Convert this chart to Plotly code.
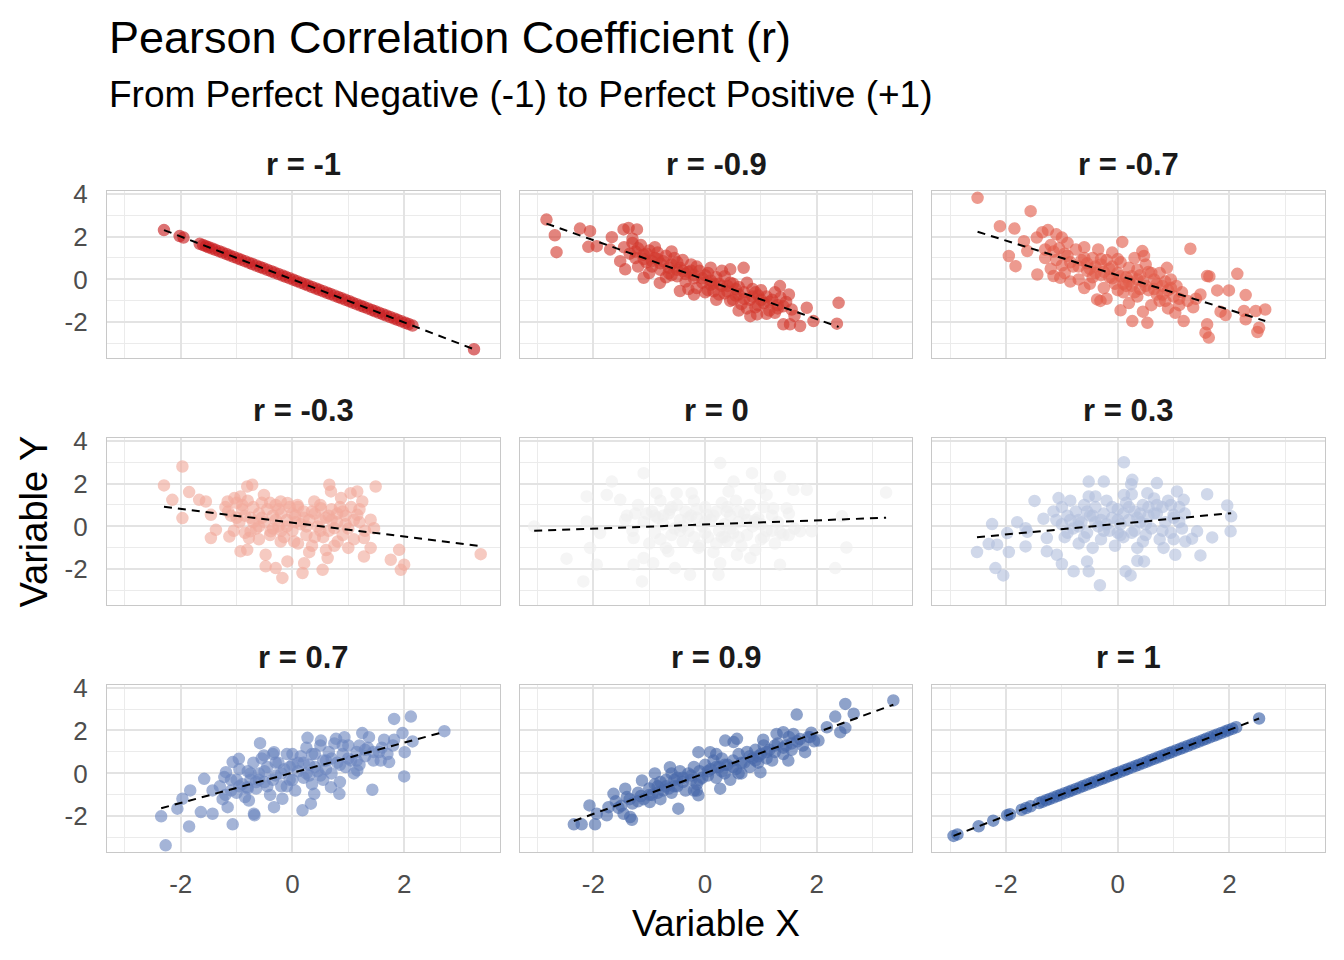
import numpy as np
import plotly.graph_objects as go
from plotly.subplots import make_subplots

# panel labels and colours, in facet order
panel_labels = ["r = -1", "r = -0.9", "r = -0.7",
                "r = -0.3", "r = 0", "r = 0.3",
                "r = 0.7", "r = 0.9", "r = 1"]
panel_colors = ["#c81c1e", "#d33a2f", "#e35d4b",
                "#f2aa9c", "#efefef", "#b4c1de",
                "#6d87c0", "#4a6aab", "#345ca6"]

# r = -1 (points on a straight line)
x_m10 = [-2.30, -2.02, -1.95, -1.66, -1.60, -1.55, -1.50, -1.44, -1.38, -1.31, -1.25, -1.18,
         -1.12, -1.05, -0.98, -0.92, -0.85, -0.78, -0.72, -0.65, -0.58, -0.52, -0.45, -0.38,
         -0.32, -0.25, -0.18, -0.12, -0.05, 0.02, 0.08, 0.15, 0.22, 0.28, 0.35, 0.42, 0.48,
         0.55, 0.62, 0.68, 0.75, 0.82, 0.88, 0.95, 1.02, 1.08, 1.15, 1.22, 1.28, 1.35, 1.42,
         1.48, 1.55, 1.62, 1.68, 1.75, 1.82, 1.88, 1.95, 2.02, 2.08, 2.15, 3.25]
y_m10 = [2.30, 2.02, 1.95, 1.66, 1.60, 1.55, 1.50, 1.44, 1.38, 1.31, 1.25, 1.18,
         1.12, 1.05, 0.98, 0.92, 0.85, 0.78, 0.72, 0.65, 0.58, 0.52, 0.45, 0.38,
         0.32, 0.25, 0.18, 0.12, 0.05, -0.02, -0.08, -0.15, -0.22, -0.28, -0.35, -0.42, -0.48,
         -0.55, -0.62, -0.68, -0.75, -0.82, -0.88, -0.95, -1.02, -1.08, -1.15, -1.22, -1.28, -1.35, -1.42,
         -1.48, -1.55, -1.62, -1.68, -1.75, -1.82, -1.88, -1.95, -2.02, -2.08, -2.15, -3.25]

# r = -0.9
pts_m09 = [(-2.84, 2.79), (-2.69, 2.06), (-2.66, 1.27), (-2.24, 2.37), (-2.06, 2.25), (-2.09, 1.52),
           (-1.94, 1.55), (-1.67, 1.97), (-1.70, 1.40), (-1.46, 2.33), (-1.37, 2.40), (-1.22, 2.33),
           (-1.52, 0.85), (-1.43, 0.47), (-1.10, 0.08), (-0.81, -0.16), (-0.45, -0.54), (0.45, 0.47),
           (0.69, 0.54), (0.81, -1.71), (0.93, -1.63), (1.34, -0.31), (1.40, -2.09), (1.52, -2.09),
           (1.70, -2.17), (1.82, -1.32), (1.94, -1.94), (2.39, -1.09), (2.36, -2.06),
           (-1.45, 1.5), (-1.35, 1.2), (-1.3, 1.7), (-1.25, 1.0), (-1.2, 1.45), (-1.15, 1.6), (-1.1, 1.15),
           (-1.05, 0.8), (-1.0, 1.35), (-0.95, 0.6), (-0.9, 1.0), (-0.85, 1.25), (-0.8, 0.45), (-0.75, 0.85),
           (-0.7, 1.1), (-0.65, 0.3), (-0.6, 0.7), (-0.55, 1.0), (-0.5, 0.15), (-0.45, 0.55), (-0.4, 0.9),
           (-0.35, -0.1), (-0.3, 0.35), (-0.25, 0.7), (-0.2, 0.05), (-0.15, -0.4), (-0.1, 0.4), (-0.05, -0.15),
           (0.0, 0.2), (0.05, -0.5), (0.1, 0.55), (0.15, -0.2), (0.2, 0.1), (0.25, -0.7), (0.3, -0.3),
           (0.35, 0.15), (0.4, -0.55), (0.45, -1.0), (0.5, -0.2), (0.55, -0.75), (0.6, -0.35), (0.65, -1.15),
           (0.7, -0.6), (0.75, -0.15), (0.8, -0.95), (0.85, -0.45), (0.9, -1.3), (0.95, -0.75), (1.0, -0.5),
           (1.05, -1.1), (1.1, -0.8), (1.15, -1.45), (1.2, -0.95), (1.25, -0.6), (1.3, -1.2), (1.35, -0.85),
           (1.45, -1.05), (1.55, -1.4), (1.25, -1.55), (0.6, -1.45), (0.2, -0.95), (-0.2, -0.7), (-0.4, 0.4),
           (-0.7, 0.1), (-1.0, 0.3), (-1.2, 0.6), (-0.3, -0.45), (0.1, -0.25), (0.5, -0.95), (0.95, -1.2),
           (0.3, 0.4), (-0.6, 1.3), (-0.9, 1.5), (-1.3, 1.9), (1.1, -1.6), (0.75, -1.35), (1.6, -1.7),
           (1.5, -0.7), (0.0, -0.6), (-0.15, 0.6),
           (-1.25, 1.3), (-1.1, 0.95), (-0.95, 0.85), (-0.8, 0.75), (-0.65, 0.55), (-0.5, 0.45), (-0.35, 0.25),
           (-0.2, 0.2), (-0.05, 0.05), (0.1, -0.05), (0.25, -0.2), (0.4, -0.3), (0.55, -0.45), (0.7, -0.9),
           (0.85, -0.8), (1.0, -0.95), (1.15, -1.05), (1.3, -1.35), (0.35, -0.65), (-0.5, 0.8), (-0.85, 0.95),
           (0.05, 0.3), (0.6, -0.7), (-0.25, 0.4), (0.9, -0.6), (1.4, -1.25), (-1.05, 1.2), (0.15, -0.55),
           (0.45, -0.15), (-0.6, 0.2)]

# r = -0.7
pts_m07 = [(-2.51, 3.80), (-1.56, 3.18), (-2.11, 2.48), (-1.85, 2.37), (-1.95, 1.09), (-1.83, 0.62),
           (-1.68, 1.78), (-1.62, 1.32), (-1.44, 0.23), (-1.15, 0.16), (-1.03, 0.08), (0.08, 1.75),
           (0.44, 1.32), (0.47, 1.09), (-0.37, -0.93), (-0.31, -1.0), (0.05, -1.44), (0.26, -1.94),
           (0.53, -2.02), (0.88, 0.54), (1.30, 1.43), (1.60, 0.16), (1.64, 0.14), (2.14, 0.26),
           (2.29, -0.73), (1.78, -0.51), (1.99, -0.51), (1.48, -0.70), (1.84, -1.50), (1.93, -1.66),
           (2.26, -1.47), (2.29, -1.86), (2.47, -1.47), (2.64, -1.40), (2.53, -2.25), (2.50, -2.45),
           (1.60, -2.09), (1.57, -2.48), (1.63, -2.71), (1.18, -1.94), (1.03, -1.55),
           (-1.45, 1.95), (-1.35, 2.2), (-1.25, 2.3), (-1.1, 2.1), (-1.0, 1.95), (-1.2, 1.6), (-1.05, 1.45),
           (-0.9, 1.7), (-1.3, 1.0), (-1.2, 0.5), (-1.1, 0.9), (-0.95, 0.3), (-0.9, 1.1), (-0.8, 0.6),
           (-0.75, 1.4), (-0.7, 0.0), (-0.65, 0.9), (-0.6, 1.5), (-0.55, 0.4), (-0.5, -0.2), (-0.45, 1.0),
           (-0.4, 0.6), (-0.35, 1.4), (-0.3, 0.2), (-0.25, -0.4), (-0.2, 0.9), (-0.15, 0.5), (-0.1, 1.25),
           (-0.05, -0.2), (0.0, 0.3), (0.05, 0.8), (0.1, -0.6), (0.15, 0.1), (0.2, 0.55), (0.25, -0.3),
           (0.3, 1.0), (0.35, -0.8), (0.4, 0.2), (0.45, -0.1), (0.5, 0.7), (0.55, -0.5), (0.6, -1.2),
           (0.65, 0.0), (0.7, -0.7), (0.75, 0.3), (0.8, -0.3), (0.85, -1.0), (0.9, -0.5), (0.95, 0.0),
           (1.0, -0.8), (1.05, -0.3), (1.1, -1.2), (1.15, -0.6), (-0.6, -0.4), (-0.2, -0.9), (0.2, -1.1),
           (0.45, -1.5), (-0.85, -0.1), (0.0, 0.95), (-0.45, 0.1), (0.35, 0.45), (0.7, -0.2), (0.15, -0.3),
           (-0.3, 0.7), (-1.0, 0.65), (1.25, -1.0), (1.4, -0.9), (1.35, -1.3), (0.55, 0.35), (-0.1, 0.05),
           (0.25, 0.15), (0.9, -1.35),
           (-1.15, 1.3), (-0.95, 1.2), (-0.85, 0.8), (-0.7, 0.6), (-0.55, 0.75), (-0.4, 0.3), (-0.25, 0.35),
           (-0.1, 0.6), (0.05, 0.15), (0.2, -0.1), (0.35, 0.0), (0.5, -0.3), (0.65, -0.45), (0.8, -0.7),
           (0.95, -0.4), (1.1, -0.9), (-0.6, 1.0), (-0.3, 0.95), (0.1, -0.2), (0.4, -0.45), (0.75, -1.0),
           (-1.3, 1.4), (0.6, 0.3), (0.0, -0.5), (-0.5, 0.5), (0.3, -0.6), (0.85, -0.1), (-0.15, 0.1)]

# r = -0.3
pts_m03 = [(-2.30, 1.91), (-1.97, 2.79), (-2.15, 1.24), (-1.97, 0.39), (-1.85, 1.60), (-1.67, 1.24),
           (-1.55, 1.16), (-1.46, 0.54), (-1.37, -0.16), (-1.46, -0.54), (-1.13, -0.47), (-1.16, 1.16),
           (-1.04, 1.32), (-0.93, 1.40), (-0.81, 1.86), (-0.72, 1.94), (-0.93, -1.16), (-0.81, -1.09),
           (-0.75, -0.23), (-0.78, -0.54), (-0.51, 1.47), (-0.48, -1.32), (-0.48, -1.86), (-0.30, -1.94),
           (-0.18, -2.40), (-0.09, -1.63), (-0.21, 1.16), (-0.09, 1.09), (0.09, 1.0), (-0.39, -0.23),
           (-0.21, -0.70), (0.03, -0.70), (0.18, -2.17), (0.21, -1.71), (0.39, 1.16), (0.51, 0.85),
           (0.66, 1.94), (0.69, 1.63), (0.54, -2.02), (0.63, -1.47), (0.75, -0.08), (0.87, 1.32),
           (0.81, -0.70), (1.04, 1.55), (1.16, 1.63), (1.25, 1.16), (1.49, 1.86), (1.28, -1.40),
           (1.40, -1.0), (1.28, -0.54), (1.40, 0.31), (1.46, -0.08), (1.16, 0.54), (1.76, -1.55),
           (1.91, -1.09), (1.94, -2.02), (2.0, -1.78), (3.37, -1.29),
           (-1.2, 0.9), (-1.1, 0.5), (-1.0, 1.1), (-0.95, 0.2), (-0.9, 0.8), (-0.85, -0.3), (-0.8, 1.2),
           (-0.75, 0.4), (-0.7, 0.9), (-0.65, -0.1), (-0.6, 0.6), (-0.55, 1.1), (-0.5, 0.2), (-0.45, 0.8),
           (-0.4, -0.4), (-0.35, 0.5), (-0.3, 1.0), (-0.25, 0.0), (-0.2, 0.6), (-0.15, -0.5), (-0.1, 0.3),
           (-0.05, 0.9), (0.0, -0.2), (0.05, 0.5), (0.1, -0.8), (0.15, 0.1), (0.2, 0.7), (0.25, -0.4),
           (0.3, 0.3), (0.35, -0.9), (0.4, 0.6), (0.45, 0.0), (0.5, 1.0), (0.55, -0.5), (0.6, 0.4),
           (0.65, -0.2), (0.7, 0.8), (0.75, -0.9), (0.8, 0.2), (0.85, 0.9), (0.9, -0.4), (0.95, 0.5),
           (1.0, -0.1), (1.05, 0.9), (1.1, -0.6), (1.2, 0.2), (1.3, -0.2), (-0.6, -0.6), (0.3, -1.2),
           (0.6, -1.1), (1.0, -1.0), (-1.05, -0.2), (0.0, 0.6), (0.5, 0.3), (-0.3, 0.3),
           (-1.15, 0.7), (-1.0, 0.4), (-0.85, 0.5), (-0.7, 0.2), (-0.55, 0.4), (-0.4, 1.1), (-0.25, 0.8),
           (-0.1, 0.0), (0.05, 0.2), (0.2, 0.4), (0.35, 0.7), (0.5, -0.2), (0.65, 0.5), (0.8, 0.6),
           (0.95, 0.1), (1.1, 0.3), (1.2, 0.8), (-0.6, 0.0), (-0.2, -0.2), (0.25, 0.0), (0.7, 0.3),
           (0.4, -0.5), (-0.9, 1.0), (0.1, 0.9), (0.9, 0.7), (-0.35, -0.1)]

# r = 0
pts_00 = [(-3.06, 0.0), (-2.48, -1.50), (-2.18, -2.56), (-2.12, 1.40), (-2.12, 0.23), (-2.06, -1.0),
          (-1.94, -1.78), (-1.88, -0.31), (-1.76, 1.47), (-1.67, 2.09), (-1.52, 1.24), (-1.43, 0.31),
          (-1.28, -1.78), (-1.28, -0.54), (-1.10, 2.48), (-1.13, -2.56), (-1.10, -1.47), (-0.93, -1.71),
          (-0.87, 1.55), (-0.63, 0.78), (-0.66, -1.16), (-0.54, -1.94), (-0.51, 1.55), (-0.27, -2.25),
          (-0.24, 1.55), (-0.12, -1.0), (0.03, 0.54), (0.27, 2.95), (0.24, -2.25), (0.27, -1.71),
          (0.42, 1.63), (0.51, 2.09), (0.39, 0.70), (0.57, -1.32), (0.84, 2.48), (0.81, -1.47),
          (0.99, 1.78), (1.10, 1.47), (1.34, 2.33), (1.34, -1.78), (1.22, 0.85), (1.46, 0.85),
          (1.58, 1.71), (1.82, 1.71), (1.70, -0.23), (1.91, -0.23), (2.45, 0.47), (2.53, -0.98),
          (2.33, -1.94), (3.24, 1.58),
          (-1.4, 0.5), (-1.3, -0.2), (-1.2, 1.0), (-1.1, 0.2), (-1.0, -0.8), (-0.95, 0.7), (-0.9, -0.3),
          (-0.8, 1.2), (-0.75, 0.1), (-0.7, -1.0), (-0.65, 0.6), (-0.6, -0.4), (-0.5, 1.0), (-0.45, 0.3),
          (-0.4, -0.7), (-0.35, 0.7), (-0.3, -0.2), (-0.2, 1.2), (-0.15, 0.4), (-0.1, -0.9), (-0.05, 0.0),
          (0.0, 0.9), (0.05, -0.5), (0.1, 0.3), (0.15, -1.2), (0.2, 0.7), (0.25, -0.2), (0.3, 1.1),
          (0.35, 0.1), (0.4, -0.7), (0.45, 0.5), (0.5, -0.3), (0.55, 1.2), (0.6, 0.2), (0.65, -0.9),
          (0.7, 0.6), (0.75, -0.4), (0.8, 1.0), (0.85, 0.0), (0.9, -1.1), (0.95, 0.4), (1.0, -0.6),
          (1.05, 0.9), (1.1, -0.2), (1.2, 0.5), (1.25, -0.8), (1.3, 0.2), (1.4, -0.4), (1.5, 0.6),
          (1.6, -0.1), (-0.85, 0.4), (-0.25, 0.5), (0.35, -0.5), (0.9, 0.3), (-0.55, -0.1), (0.0, -0.3),
          (-1.25, 0.6), (-1.05, 0.6), (-0.9, 0.5), (-0.75, 0.5), (-0.6, 0.9), (-0.45, -0.2), (-0.3, 0.4),
          (-0.15, 0.8), (0.0, 0.2), (0.15, 0.5), (0.3, -0.5), (0.45, -0.1), (0.6, 0.7), (0.75, 0.3),
          (0.9, 0.2), (1.05, -0.5), (1.2, -0.2), (1.35, -0.3), (1.5, -0.4), (-0.4, 0.0), (0.2, -0.8),
          (0.6, -0.5), (-0.8, -0.6), (0.4, 0.9), (1.0, 0.1), (-0.2, -0.5)]

# r = 0.3
pts_p03 = [(-2.52, -1.19), (-2.25, 0.11), (-2.31, -0.82), (-2.16, -0.85), (-2.19, -1.94), (-2.05, -2.28),
           (-1.95, -1.19), (-1.98, -0.31), (-1.80, 0.20), (-1.65, -0.08), (-1.65, -0.93), (-1.62, -0.25),
           (-1.49, 1.19), (-1.33, 0.36), (-1.27, -0.54), (-1.27, -1.16), (-1.06, 1.32), (-1.15, 0.70),
           (-1.09, -1.32), (-1.0, -1.75), (-0.79, -2.09), (-0.52, -2.09), (-0.52, 2.09), (-0.25, 2.09),
           (-0.52, 1.40), (-0.40, 1.40), (-0.55, -1.63), (-0.32, -2.74), (0.11, 2.99), (0.26, 2.17),
           (0.24, 1.97), (0.14, -2.09), (0.23, -2.28), (0.35, -1.60), (0.47, -1.63), (0.11, 1.47),
           (0.53, 1.55), (0.70, 2.02), (0.82, -1.0), (1.03, -1.32), (1.06, 1.63), (1.18, 1.24),
           (1.00, 0.54), (1.60, 1.50), (1.42, -0.23), (1.21, -0.70), (1.33, -0.57), (1.48, -1.35),
           (1.69, -0.51), (1.96, 0.98), (2.03, 0.47), (2.02, -0.23),
           (-1.1, 0.3), (-1.0, 0.9), (-0.95, -0.5), (-0.9, 0.5), (-0.85, 1.2), (-0.8, -0.1), (-0.75, 0.7),
           (-0.7, -0.8), (-0.65, 0.2), (-0.6, 1.0), (-0.55, -0.3), (-0.5, 0.5), (-0.45, -1.0), (-0.4, 0.9),
           (-0.35, 0.0), (-0.3, -0.6), (-0.25, 0.6), (-0.2, 1.2), (-0.15, -0.2), (-0.1, 0.4), (-0.05, -0.9),
           (0.0, 0.8), (0.05, 0.1), (0.1, -0.5), (0.15, 1.1), (0.2, 0.3), (0.25, -0.3), (0.3, 0.7),
           (0.35, -1.0), (0.4, 0.2), (0.45, 1.0), (0.5, -0.4), (0.55, 0.5), (0.6, -0.1), (0.65, 1.3),
           (0.7, 0.6), (0.75, -0.6), (0.8, 0.9), (0.85, 0.2), (0.9, 1.2), (0.95, -0.3), (1.0, 0.4),
           (1.1, 0.9), (1.15, -0.1), (1.2, 0.6), (-0.7, 0.3), (0.0, -0.3), (0.4, 0.6), (0.25, 1.5),
           (-0.2, 0.1),
           (-1.0, 0.1), (-0.85, 0.3), (-0.7, 0.0), (-0.55, 0.7), (-0.4, 0.2), (-0.25, -0.2), (-0.1, 0.9),
           (0.05, -0.4), (0.2, 0.9), (0.35, 0.4), (0.5, 0.1), (0.65, 0.6), (0.8, -0.2), (0.95, 1.0),
           (1.1, 0.2), (-0.6, -0.5), (-0.3, 0.3), (0.1, 0.6), (0.45, -0.7), (0.7, 1.0), (0.3, -0.2),
           (-0.9, -0.3), (0.0, 0.3), (0.55, 0.9), (1.0, -0.6), (-0.45, 0.5)]

# r = 0.7
pts_p07 = [(-2.35, -2.0), (-2.27, -3.35), (-1.85, -2.47), (-2.06, -1.64), (-1.97, -1.18), (-1.83, -0.79),
           (-1.64, -1.80), (-1.58, -0.25), (-1.43, -1.88), (-1.43, -0.79), (-1.22, -0.17), (-1.19, 0.06),
           (-1.16, -1.57), (-1.07, -2.37), (-1.07, 0.53), (-0.96, 0.68), (-0.81, -0.64), (-0.78, -1.26),
           (-0.69, -1.88), (-0.68, -1.95), (-0.58, 1.41), (-0.33, -1.57), (-0.18, -1.18), (-0.33, 0.99),
           (-0.51, 0.84), (0.18, -1.72), (0.33, -1.41), (0.39, -0.95), (0.27, 1.66), (0.51, 1.53),
           (0.84, -0.95), (0.69, -0.64), (0.93, 1.69), (0.78, 1.61), (1.25, 1.88), (1.37, 1.69),
           (1.16, 0.14), (1.43, -0.76), (1.64, 1.57), (1.82, 1.57), (1.82, 2.54), (2.12, 2.65),
           (1.97, 1.88), (2.15, 1.49), (2.01, 0.99), (2.0, -0.14), (1.73, 0.53), (1.58, 0.60), (2.72, 1.97),
           (-1.3, -0.6), (-1.2, -1.0), (-1.1, -0.3), (-1.0, -0.9), (-0.95, 0.2), (-0.9, -0.5), (-0.85, -1.1),
           (-0.8, 0.1), (-0.75, -0.3), (-0.7, 0.5), (-0.65, -0.7), (-0.6, 0.0), (-0.55, 0.7), (-0.5, -0.4),
           (-0.45, 0.3), (-0.4, -1.0), (-0.35, 0.9), (-0.3, -0.1), (-0.25, 0.5), (-0.2, -0.6), (-0.15, 0.2),
           (-0.1, 0.9), (-0.05, -0.3), (0.0, 0.4), (0.05, -0.8), (0.1, 0.1), (0.15, 0.8), (0.2, -0.2),
           (0.25, 1.2), (0.3, 0.4), (0.35, -0.5), (0.4, 0.9), (0.45, 0.1), (0.5, 1.3), (0.55, -0.3),
           (0.6, 0.6), (0.65, 1.0), (0.7, 0.0), (0.75, 1.4), (0.8, 0.5), (0.85, -0.4), (0.9, 0.9),
           (0.95, 0.3), (1.0, 1.3), (1.05, 0.6), (1.1, 0.0), (1.15, 1.0), (1.2, 0.4), (1.3, 0.8),
           (1.35, 1.2), (1.45, 0.6), (1.55, 1.0), (1.7, 0.9), (1.8, 1.3), (-0.1, -0.6), (0.3, -0.1),
           (0.6, 0.2), (-0.6, -0.3), (0.0, 0.9), (-1.0, -0.3), (-0.45, -0.6),
           (-1.25, -1.2), (-1.1, -0.8), (-0.95, -0.6), (-0.8, -0.7), (-0.65, -0.4), (-0.5, 0.1), (-0.35, -0.3),
           (-0.2, 0.0), (-0.05, 0.3), (0.1, 0.5), (0.25, 0.0), (0.4, 0.3), (0.55, 0.6), (0.7, 0.7),
           (0.85, 0.4), (1.0, 0.7), (1.15, 0.6), (1.3, 1.1), (1.45, 1.0), (1.6, 1.2), (-0.3, 0.5),
           (0.2, 0.5), (0.5, -0.1), (0.9, 1.3), (-0.75, 0.0), (0.0, -0.3), (1.2, 1.3), (0.35, 0.9)]

# r = 0.9
pts_p09 = [(-2.35, -2.37), (-2.21, -2.37), (-1.97, -2.37), (-2.07, -1.49), (-1.94, -1.88), (-1.76, -1.95),
           (-1.73, -1.57), (-1.64, -0.95), (-1.46, -1.88), (-1.34, -2.03), (-1.31, -2.16), (-1.43, -0.71),
           (-1.13, -0.33), (-0.99, -1.33), (-0.90, 0.0), (-0.63, 0.29), (-0.60, 0.0), (-0.48, -1.64),
           (-0.12, 0.99), (0.09, 0.99), (-0.12, -1.02), (-0.15, -0.8), (0.27, -0.71), (0.36, 1.53),
           (0.57, 1.61), (0.51, 1.46), (0.99, 0.06), (1.04, 1.57), (1.28, 1.84), (1.40, 1.92),
           (1.49, 0.60), (1.64, 2.74), (1.58, 1.84), (1.79, 0.99), (1.88, 1.69), (2.03, 1.53),
           (2.18, 2.15), (2.33, 2.65), (2.42, 1.92), (2.51, 2.12), (2.51, 3.24), (2.66, 2.78), (3.37, 3.40),
           (-1.6, -1.3), (-1.5, -1.5), (-1.4, -1.1), (-1.3, -1.4), (-1.2, -0.9), (-1.1, -1.2), (-1.0, -0.7),
           (-0.95, -1.0), (-0.9, -0.5), (-0.85, -0.9), (-0.8, -0.4), (-0.75, -0.8), (-0.7, -0.3), (-0.65, -0.7),
           (-0.6, -0.9), (-0.55, -0.3), (-0.5, -0.6), (-0.45, 0.1), (-0.4, -0.4), (-0.35, -0.8), (-0.3, 0.0),
           (-0.25, -0.3), (-0.2, 0.3), (-0.15, -0.5), (-0.1, 0.1), (-0.05, -0.2), (0.0, 0.4), (0.05, -0.1),
           (0.1, 0.2), (0.15, 0.6), (0.2, -0.2), (0.25, 0.3), (0.3, 0.7), (0.35, 0.0), (0.4, 0.4),
           (0.45, -0.3), (0.5, 0.6), (0.55, 0.2), (0.6, 0.9), (0.65, 0.0), (0.7, 0.5), (0.75, 1.0),
           (0.8, 0.3), (0.85, 0.7), (0.9, 1.1), (0.95, 0.5), (1.0, 0.9), (1.05, 1.3), (1.1, 0.7),
           (1.15, 1.1), (1.2, 0.6), (1.25, 1.0), (1.3, 1.4), (1.4, 0.9), (1.45, 1.3), (1.55, 1.1),
           (1.65, 1.5), (1.75, 1.3), (1.85, 1.7), (1.95, 1.5), (0.2, 0.9), (-0.8, -1.2), (0.6, 0.0),
           (-0.2, -0.8),
           (-1.55, -1.6), (-1.35, -1.2), (-1.15, -1.05), (-1.0, -1.0), (-0.85, -0.6), (-0.7, -0.6), (-0.55, -0.6),
           (-0.4, -0.2), (-0.25, -0.1), (-0.1, -0.3), (0.05, 0.1), (0.2, 0.3), (0.35, 0.4), (0.5, 0.3),
           (0.65, 0.5), (0.8, 0.8), (0.95, 0.8), (1.1, 1.0), (1.25, 1.3), (1.4, 1.2), (1.55, 1.4),
           (1.7, 1.6), (1.9, 1.9), (-0.5, -0.2), (0.3, 0.1), (0.9, 0.6), (1.5, 1.7), (-1.2, -1.3)]

# r = 1 (points on a straight line)
x_p10 = [-2.94, -2.87, -2.49, -2.23, -1.98, -1.93, -1.72, -1.64, -1.56, -1.41, -1.35, -1.28, -1.22,
         -1.15, -1.08, -1.02, -0.95, -0.88, -0.82, -0.75, -0.68, -0.62, -0.55, -0.48, -0.42, -0.35,
         -0.28, -0.22, -0.15, -0.08, -0.02, 0.05, 0.12, 0.18, 0.25, 0.32, 0.38, 0.45, 0.52, 0.58,
         0.65, 0.72, 0.78, 0.85, 0.92, 0.98, 1.05, 1.12, 1.18, 1.25, 1.32, 1.38, 1.45, 1.52, 1.58,
         1.65, 1.72, 1.78, 1.85, 1.92, 1.98, 2.05, 2.12, 2.53]
y_p10 = [-2.91, -2.84, -2.46, -2.20, -1.95, -1.90, -1.69, -1.61, -1.53, -1.38, -1.32, -1.25, -1.19,
         -1.12, -1.05, -0.99, -0.92, -0.85, -0.79, -0.72, -0.65, -0.59, -0.52, -0.45, -0.39, -0.32,
         -0.25, -0.19, -0.12, -0.05, 0.01, 0.08, 0.15, 0.21, 0.28, 0.35, 0.41, 0.48, 0.55, 0.61,
         0.68, 0.75, 0.81, 0.88, 0.95, 1.01, 1.08, 1.15, 1.21, 1.28, 1.35, 1.41, 1.48, 1.55, 1.61,
         1.68, 1.75, 1.81, 1.88, 1.95, 2.01, 2.08, 2.15, 2.56]


def split(pts):
    return [p[0] for p in pts], [p[1] for p in pts]


panels = [(x_m10, y_m10), split(pts_m09), split(pts_m07),
          split(pts_m03), split(pts_00), split(pts_p03),
          split(pts_p07), split(pts_p09), (x_p10, y_p10)]

x_ticks = [-2, 0, 2]
y_ticks = [-2, 0, 2, 4]
minor_ticks = [-3, -1, 1, 3]
x_range = [-3.32, 3.71]
y_range = [-3.66, 4.12]

FONT = "Liberation Sans, Arial, Helvetica, sans-serif"

fig = make_subplots(rows=3, cols=3, horizontal_spacing=0.0164, vertical_spacing=0.121)

for i, (xs, ys) in enumerate(panels):
    row, col = i // 3 + 1, i % 3 + 1
    c = panel_colors[i]
    fig.add_trace(go.Scatter(x=xs, y=ys, mode="markers", showlegend=False, hoverinfo="skip",
                             marker=dict(color=c, size=11, opacity=0.62,
                                         line=dict(color=c, width=1.5))),
                  row=row, col=col)
    # least squares line over the data range (geom_smooth method = "lm")
    slope, icpt = np.polyfit(xs, ys, 1)
    xl = [min(xs), max(xs)]
    yl = [icpt + slope * v for v in xl]
    fig.add_trace(go.Scatter(x=xl, y=yl, mode="lines", showlegend=False, hoverinfo="skip",
                             line=dict(color="black", width=2, dash="8px,6px")),
                  row=row, col=col)

    n = "" if i == 0 else str(i + 1)
    fig.add_annotation(text="<b>" + panel_labels[i] + "</b>", xref="x" + n + " domain", yref="y" + n + " domain",
                       x=0.5, y=1, xanchor="center", yanchor="middle", yshift=27, showarrow=False,
                       font=dict(family=FONT, size=31, color="#1a1a1a"))

fig.update_xaxes(range=x_range, tickvals=x_ticks, ticktext=[str(t) for t in x_ticks],
                 showgrid=True, gridcolor="#e3e3e3", gridwidth=2.2, zeroline=False,
                 minor=dict(tickvals=minor_ticks, showgrid=True, gridcolor="#ebebeb", gridwidth=1.3),
                 showline=True, mirror=True, linecolor="#c8c8c8", linewidth=1.4,
                 ticks="", ticklabelstandoff=9,
                 tickfont=dict(family=FONT, size=26, color="#4d4d4d"))
fig.update_yaxes(range=y_range, tickvals=y_ticks, ticktext=[str(t) for t in y_ticks],
                 showgrid=True, gridcolor="#e3e3e3", gridwidth=2.2, zeroline=False,
                 minor=dict(tickvals=minor_ticks, showgrid=True, gridcolor="#ebebeb", gridwidth=1.3),
                 showline=True, mirror=True, linecolor="#c8c8c8", linewidth=1.4,
                 ticks="", ticklabelstandoff=13,
                 tickfont=dict(family=FONT, size=26, color="#4d4d4d"))
for r in (1, 2):
    fig.update_xaxes(showticklabels=False, row=r)
for c in (2, 3):
    fig.update_yaxes(showticklabels=False, col=c)

# page pixel positions (the page body adds an 8px offset)
plot_top, plot_bottom = 191, 852
ph = plot_bottom - plot_top


def py(pix):  # page pixel row -> paper y
    return (plot_bottom - pix) / ph


fig.add_annotation(text="Pearson Correlation Coefficient (r)", xref="paper", yref="paper",
                   x=0, y=py(38), xanchor="left", yanchor="middle", showarrow=False,
                   font=dict(family=FONT, size=45, color="black"))
fig.add_annotation(text="From Perfect Negative (-1) to Perfect Positive (+1)", xref="paper", yref="paper",
                   x=0, y=py(95), xanchor="left", yanchor="middle", showarrow=False,
                   font=dict(family=FONT, size=37, color="black"))
fig.add_annotation(text="Variable X", xref="paper", yref="paper",
                   x=0.5, y=py(923), xanchor="center", yanchor="middle", showarrow=False,
                   font=dict(family=FONT, size=37, color="black"))
fig.add_annotation(text="Variable Y", xref="paper", yref="paper",
                   x=(33 - 107) / 1218, y=0.5, xanchor="center", yanchor="middle", showarrow=False,
                   textangle=-90, font=dict(family=FONT, size=38, color="black"))

fig.update_layout(width=1336, height=952, paper_bgcolor="white", plot_bgcolor="white",
                  margin=dict(l=99, r=19, t=plot_top - 8, b=960 - plot_bottom),
                  font=dict(family=FONT))

fig.write_html("out.html")
